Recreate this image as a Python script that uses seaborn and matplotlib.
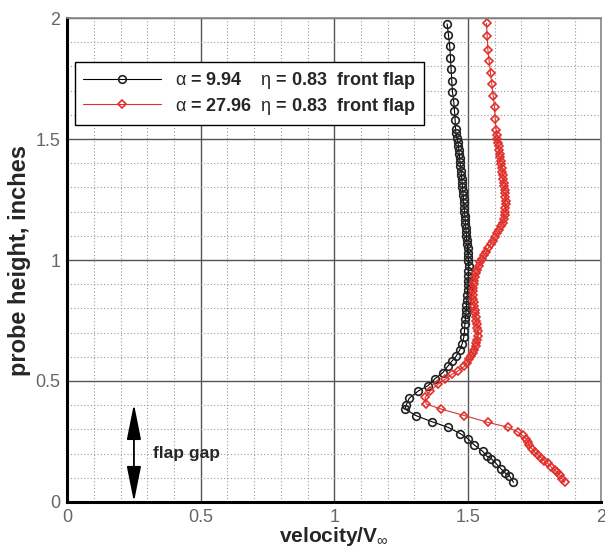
import numpy as np
import pandas as pd
import matplotlib
matplotlib.use("Agg")
import matplotlib.pyplot as plt
import seaborn as sns
from matplotlib.ticker import MultipleLocator

# probe traverse, alpha = 9.94 (black circles)
h_low = [1.976, 1.931, 1.883, 1.836, 1.788, 1.740, 1.696, 1.652, 1.618, 1.577,
         1.540, 1.523, 1.506, 1.489, 1.472, 1.455, 1.438, 1.421, 1.404, 1.387,
         1.370, 1.353, 1.336, 1.319, 1.302, 1.285, 1.268, 1.251, 1.234, 1.217,
         1.200, 1.183, 1.166, 1.149, 1.132, 1.115, 1.098, 1.082, 1.065, 1.048,
         1.031, 1.014, 0.997, 0.975, 0.955, 0.935, 0.915, 0.895, 0.875, 0.855,
         0.835, 0.815, 0.795, 0.775, 0.755, 0.735, 0.705, 0.681, 0.654, 0.627,
         0.602, 0.582, 0.561, 0.534, 0.510, 0.480, 0.459, 0.429, 0.400, 0.384,
         0.357, 0.332, 0.309, 0.282, 0.262, 0.237, 0.209, 0.190, 0.179, 0.160,
         0.136, 0.120, 0.108, 0.081]
v_low = [1.4225, 1.4275, 1.4325, 1.435, 1.4375, 1.44, 1.4425, 1.4475, 1.45, 1.4525,
         1.454, 1.456, 1.459, 1.4625, 1.465, 1.4665, 1.4675, 1.470, 1.471, 1.4725,
         1.475, 1.476, 1.4775, 1.479, 1.480, 1.4815, 1.4825, 1.484, 1.485, 1.4865,
         1.4875, 1.489, 1.490, 1.491, 1.4925, 1.494, 1.495, 1.496, 1.4975, 1.499,
         1.500, 1.501, 1.5025, 1.5035, 1.5025, 1.502, 1.501, 1.500, 1.499, 1.498,
         1.4965, 1.495, 1.494, 1.4925, 1.491, 1.489, 1.4875, 1.485, 1.479, 1.469,
         1.456, 1.44, 1.425, 1.406, 1.3775, 1.35, 1.315, 1.281, 1.269, 1.265,
         1.306, 1.365, 1.425, 1.4725, 1.50, 1.5225, 1.556, 1.57, 1.588, 1.605,
         1.625, 1.64, 1.656, 1.671]

# probe traverse, alpha = 27.96 (red diamonds)
h_high = [1.978, 1.924, 1.870, 1.822, 1.774, 1.727, 1.679, 1.632, 1.584, 1.537,
          1.515, 1.500, 1.485, 1.470, 1.455, 1.440, 1.425, 1.410, 1.395, 1.380,
          1.365, 1.350, 1.335, 1.320, 1.305, 1.290, 1.275, 1.260, 1.245, 1.230,
          1.215, 1.200, 1.185, 1.170, 1.155, 1.140, 1.125, 1.110, 1.095, 1.080,
          1.065, 1.050, 1.035, 1.020, 1.005, 0.990, 0.975, 0.960, 0.945, 0.930,
          0.915, 0.900, 0.885, 0.870, 0.855, 0.840, 0.825, 0.810, 0.795, 0.780,
          0.765, 0.750, 0.735, 0.720, 0.705, 0.688, 0.671, 0.657, 0.643, 0.630,
          0.616, 0.603, 0.589, 0.575, 0.561, 0.541, 0.527, 0.507, 0.486, 0.459,
          0.432, 0.405, 0.384, 0.357, 0.329, 0.309, 0.289, 0.275, 0.261, 0.248,
          0.234, 0.220, 0.207, 0.195, 0.182, 0.170, 0.159, 0.145, 0.132, 0.122,
          0.111, 0.096, 0.081]
v_high = [1.57, 1.5725, 1.575, 1.58, 1.585, 1.59, 1.595, 1.60, 1.6025, 1.606,
          1.609, 1.611, 1.613, 1.615, 1.617, 1.619, 1.621, 1.623, 1.625, 1.627,
          1.629, 1.631, 1.633, 1.635, 1.637, 1.639, 1.640, 1.641, 1.642, 1.642,
          1.641, 1.640, 1.638, 1.635, 1.630, 1.624, 1.617, 1.610, 1.602, 1.594,
          1.585, 1.577, 1.569, 1.561, 1.554, 1.547, 1.541, 1.536, 1.531, 1.527,
          1.524, 1.522, 1.521, 1.520, 1.520, 1.521, 1.522, 1.524, 1.526, 1.528,
          1.530, 1.532, 1.534, 1.536, 1.5375, 1.537, 1.535, 1.532, 1.529, 1.524,
          1.519, 1.513, 1.506, 1.497, 1.4875, 1.4625, 1.44, 1.415, 1.3875, 1.36,
          1.34, 1.344, 1.40, 1.4875, 1.575, 1.65, 1.6875, 1.705, 1.719, 1.725,
          1.73, 1.74, 1.75, 1.762, 1.775, 1.787, 1.80, 1.812, 1.825, 1.835,
          1.844, 1.853, 1.8625]

labels = [r"$\alpha$ = 9.94    $\eta$ = 0.83  front flap",
          r"$\alpha$ = 27.96  $\eta$ = 0.83  front flap"]
gap_top = 0.405

sns.set_style("white")
plt.rcParams["font.family"] = ["Liberation Sans", "DejaVu Sans"]
plt.rcParams["mathtext.fontset"] = "custom"
plt.rcParams["mathtext.rm"] = "Liberation Sans"
plt.rcParams["mathtext.it"] = "Liberation Sans"
plt.rcParams["mathtext.bf"] = "Liberation Sans:bold"

fig = plt.figure(figsize=(6.05, 5.48), dpi=100)
ax = fig.add_axes([0.111, 0.084, 0.883, 0.883])

df_low = pd.DataFrame({"v": v_low, "h": h_low})
df_high = pd.DataFrame({"v": v_high, "h": h_high})

sns.lineplot(data=df_low, x="v", y="h", sort=False, estimator=None, ax=ax,
             color="black", lw=0.8, marker="o", ms=5.5, mfc="none", mec="#222222",
             mew=1.2, label=labels[0])
sns.lineplot(data=df_high, x="v", y="h", sort=False, estimator=None, ax=ax,
             color="#e0302c", lw=0.8, marker="D", ms=4.5, mfc="none", mec="#e0302c",
             mew=1.2, label=labels[1])

ax.set_xlim(0, 2)
ax.set_ylim(0, 2)
ax.xaxis.set_minor_locator(MultipleLocator(0.1))
ax.yaxis.set_minor_locator(MultipleLocator(0.1))
ax.set_xticks([0, 0.5, 1, 1.5, 2])
ax.set_xticklabels(["0", "0.5", "1", "1.5", "2"])
ax.set_yticks([0, 0.5, 1, 1.5, 2])
ax.set_yticklabels(["0", "0.5", "1", "1.5", "2"])

ax.grid(which="major", color="#555555", lw=1.0, ls="-")
ax.grid(which="minor", color="#999999", lw=0.8, ls=(0, (1, 2)))
ax.set_axisbelow(True)

ax.tick_params(which="major", direction="in", length=8, width=2.2, color="black",
               labelsize=13, labelcolor="#666666", pad=5)
ax.tick_params(which="minor", direction="in", length=4, width=0.9, color="black")

for s in ["left", "bottom"]:
    ax.spines[s].set_color("black")
    ax.spines[s].set_linewidth(2.2)
for s in ["top", "right"]:
    ax.spines[s].set_color("#888888")
    ax.spines[s].set_linewidth(1.2)

ax.set_xlabel(r"$\mathbf{velocity/V}_{\infty}$", fontsize=15, labelpad=-1)
ax.set_ylabel("probe height, inches", fontsize=17, fontweight="bold", labelpad=3)

ax.annotate("", xy=(0.25, 0.0), xytext=(0.25, gap_top),
            arrowprops=dict(arrowstyle="<|-|>,head_length=1.1,head_width=0.22",
                            mutation_scale=20, color="black", lw=1.3,
                            shrinkA=0, shrinkB=0))
ax.text(0.323, 0.2, "flap gap", fontsize=12.5, fontweight="bold", va="center", ha="left")

leg = ax.legend(loc="upper left", bbox_to_anchor=(0.015, 0.909), borderaxespad=0,
                frameon=True, fancybox=False, handlelength=4.3, borderpad=0.45,
                labelspacing=0.25, handletextpad=0.8,
                prop={"weight": "bold", "size": 13})
leg.get_frame().set_edgecolor("black")
leg.get_frame().set_linewidth(1.0)
leg.get_frame().set_alpha(1)

plt.savefig("out.png", dpi=100)
